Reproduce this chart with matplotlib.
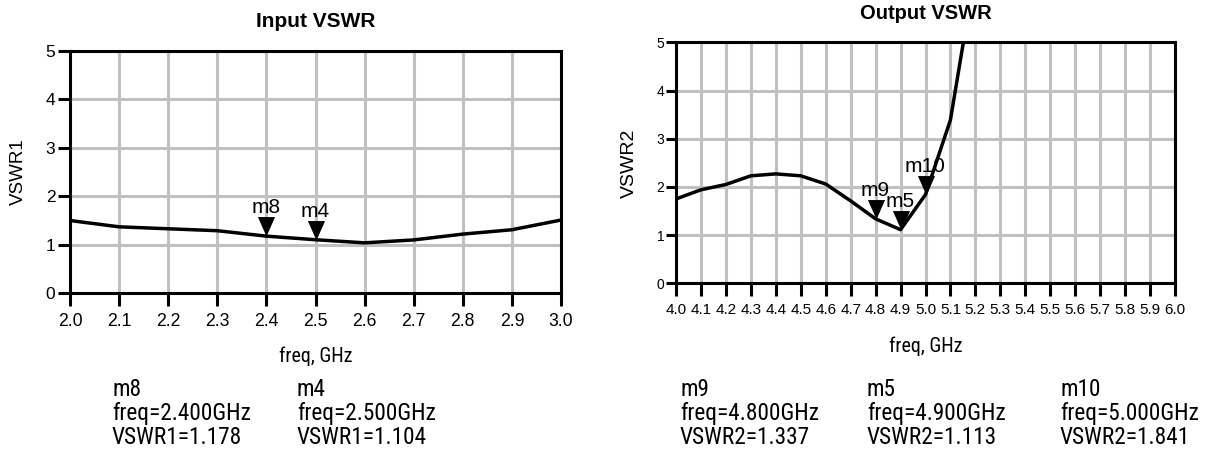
import matplotlib
matplotlib.use("Agg")
import matplotlib.pyplot as plt
from matplotlib import font_manager
from matplotlib.font_manager import FontProperties
from matplotlib.path import Path

# ---------------- data ----------------
freq1 = [2.0, 2.1, 2.2, 2.3, 2.4, 2.5, 2.6, 2.7, 2.8, 2.9, 3.0]
vswr1 = [1.50, 1.37, 1.33, 1.29, 1.178, 1.104, 1.04, 1.10, 1.22, 1.31, 1.51]

freq2 = [4.0, 4.1, 4.2, 4.3, 4.4, 4.5, 4.6, 4.7, 4.8, 4.9, 5.0, 5.1, 5.2]
vswr2 = [1.75, 1.94, 2.05, 2.23, 2.27, 2.23, 2.06, 1.71, 1.337, 1.113, 1.841, 3.39, 6.5]

mk1_names = ["m8", "m4"]
mk1_freq = [2.4, 2.5]
mk1_vals = [1.178, 1.104]

mk2_names = ["m9", "m5", "m10"]
mk2_freq = [4.8, 4.9, 5.0]
mk2_vals = [1.337, 1.113, 1.841]

xticks1 = [2.0, 2.1, 2.2, 2.3, 2.4, 2.5, 2.6, 2.7, 2.8, 2.9, 3.0]
xticks2 = [4.0, 4.1, 4.2, 4.3, 4.4, 4.5, 4.6, 4.7, 4.8, 4.9, 5.0,
           5.1, 5.2, 5.3, 5.4, 5.5, 5.6, 5.7, 5.8, 5.9, 6.0]
yticks = [0, 1, 2, 3, 4, 5]

# ---------------- fonts ----------------
REG = "Liberation Sans"
plt.rcParams["font.family"] = [REG, "DejaVu Sans"]


def pick_narrow():
    prefs = ["liberation sans narrow", "arial narrow", "roboto condensed",
             "open sans condensed", "noto sans condensed", "noto sans",
             "open sans", "roboto"]
    best = None
    for f in font_manager.fontManager.ttflist:
        n = f.name.lower()
        if f.style != "normal":
            continue
        try:
            wt = int(f.weight)
        except Exception:
            wt = 400 if str(f.weight) in ("normal", "regular", "book") else 700
        if wt != 400:
            continue
        narrow = ("narrow" in n or "condensed" in n or
                  str(f.stretch) in ("condensed", "semi-condensed",
                                     "extra-condensed"))
        if not narrow or "dejavu" in n:
            continue
        fn = f.fname.lower()
        if "semi" in fn or "extra" in fn or "ultra" in fn:
            continue
        rank = len(prefs)
        for i, p in enumerate(prefs):
            if n.startswith(p):
                rank = i
                break
        if best is None or rank < best[0]:
            best = (rank, f.fname)
    return best[1] if best else None


nf = pick_narrow()
if nf:
    NARROW_FP = FontProperties(fname=nf)
else:
    NARROW_FP = FontProperties(family=REG)

W, H = 1208, 449
fig = plt.figure(figsize=(W / 100, H / 100), dpi=100)
fig.patch.set_facecolor("white")
renderer = fig.canvas.get_renderer()


def fx(px):
    return px / W


def fy(py):
    return 1 - py / H


def pax(l, t, r, b):
    return fig.add_axes([fx(l), fy(b), (r - l) / W, (b - t) / H])


def fit_size(sample, target_w, max_size):
    t = fig.text(0, 0, sample, fontproperties=NARROW_FP.copy())
    t.set_fontsize(max_size)
    w = t.get_window_extent(renderer).width
    t.remove()
    return max_size if w <= target_w else max_size * target_w / w


GRID = "#c0c0c0"
PX = 0.72  # points per pixel

tri = Path([(-0.44, 1.0), (0.44, 1.0), (0.0, 0.0), (-0.44, 1.0)],
           [Path.MOVETO, Path.LINETO, Path.LINETO, Path.CLOSEPOLY])
TRI_MS = 28


def setup(ax, xt, xlim, xfs, yfs, xlen, ylen, xpad, ypad):
    ax.set_xlim(*xlim)
    ax.set_ylim(0, 5)
    ax.set_xticks(xt)
    ax.set_xticklabels([f"{v:.1f}" for v in xt])
    ax.set_yticks(yticks)
    ax.set_yticklabels([str(v) for v in yticks])
    ax.grid(True, color=GRID, linewidth=2.2)
    ax.set_axisbelow(True)
    for s in ax.spines.values():
        s.set_linewidth(2.2)
        s.set_color("black")
        s.set_zorder(5)
    ax.tick_params(axis="x", direction="out", length=xlen, width=2.2,
                   labelsize=xfs, pad=xpad, colors="black")
    ax.tick_params(axis="y", direction="out", length=ylen, width=2.2,
                   labelsize=yfs, pad=ypad, colors="black")


def markers(ax, names, fr, vals):
    ax.plot(fr, vals, linestyle="none", marker=tri, markersize=TRI_MS,
            color="black", markeredgewidth=0, zorder=6)
    for n, f, v in zip(names, fr, vals):
        ax.annotate(n, (f, v), xytext=(0, TRI_MS / 2 + 2.5),
                    textcoords="offset points",
                    ha="center", va="baseline", fontsize=15, family=REG,
                    zorder=7)


# ---------------- left plot ----------------
ax1 = pax(70, 50.7, 561, 293.3)
setup(ax1, xticks1, (2.0, 3.0), 12.7, 12.5, 9, 9, 5, 1.5)
ax1.plot(freq1, vswr1, color="black", linewidth=2.5, zorder=4)
markers(ax1, mk1_names, mk1_freq, mk1_vals)

# ---------------- right plot ----------------
ax2 = pax(676, 42.3, 1175, 283.3)
setup(ax2, xticks2, (4.0, 6.0), 11, 10, 9, 7.5, 5.5, 1)
ax2.plot(freq2, vswr2, color="black", linewidth=2.5, zorder=4)
markers(ax2, mk2_names, mk2_freq, mk2_vals)

# ---------------- titles & labels ----------------
fig.text(fx(315.5), fy(26.7), "Input VSWR", ha="center", va="baseline",
         fontsize=15, fontweight="bold", family=REG)
fig.text(fx(925.5), fy(19.3), "Output VSWR", ha="center", va="baseline",
         fontsize=14.5, fontweight="bold", family=REG)

fig.text(fx(18.5), fy(172), "VSWR1", rotation=90, ha="center", va="center",
         fontsize=13.5, family=REG)
fig.text(fx(629), fy(163), "VSWR2", rotation=90, ha="center", va="center",
         fontsize=14, family=REG)

xl_size = fit_size("freq, GHz", 74, 15)
for xc, yb in [(315.5, 361.5), (925.5, 351.7)]:
    t = fig.text(fx(xc), fy(yb), "freq, GHz", ha="center", va="baseline",
                 fontproperties=NARROW_FP.copy())
    t.set_fontsize(xl_size)

# ---------------- marker readouts ----------------
base = [396, 420, 444]
ro_size = fit_size("freq=2.400GHz", 138, 17.5)


def readout(x, name, f, v, lbl):
    lines = [name, f"freq={f:.3f}GHz", f"{lbl}={v:.3f}"]
    for ln, b in zip(lines, base):
        t = fig.text(fx(x), fy(b), ln, ha="left", va="baseline",
                     fontproperties=NARROW_FP.copy())
        t.set_fontsize(ro_size)


for x, n, f, v in zip([112, 297], mk1_names, mk1_freq, mk1_vals):
    readout(x, n, f, v, "VSWR1")
for x, n, f, v in zip([680, 867, 1060], mk2_names, mk2_freq, mk2_vals):
    readout(x, n, f, v, "VSWR2")

fig.savefig("out.png", dpi=100, facecolor="white")
